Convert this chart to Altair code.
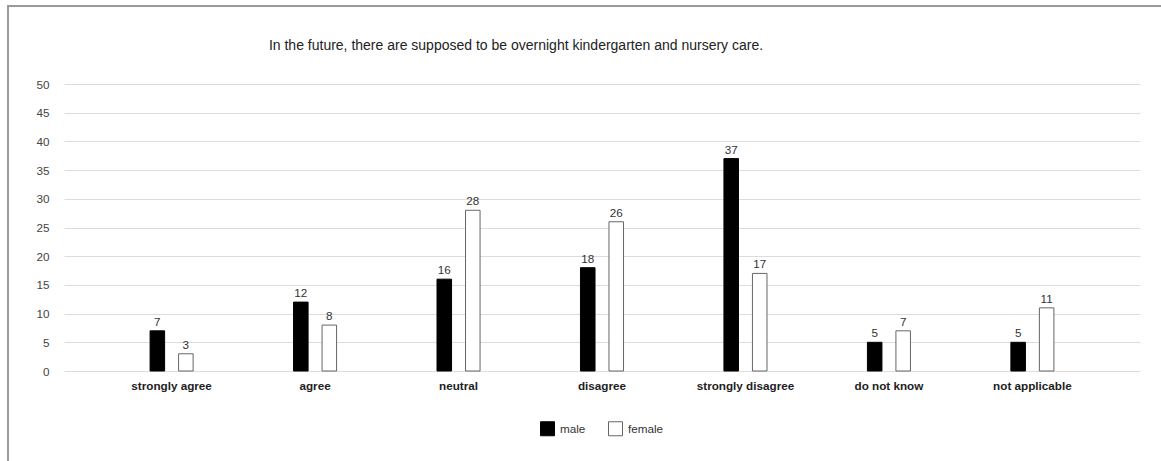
import altair as alt
import pandas as pd

categories = ["strongly agree", "agree", "neutral", "disagree",
              "strongly disagree", "do not know", "not applicable"]
genders = ["male", "female"]
male = [7, 12, 16, 18, 37, 5, 5]
female = [3, 8, 28, 26, 17, 7, 11]
y_ticks = [0, 5, 10, 15, 20, 25, 30, 35, 40, 45, 50]
title_text = "In the future, there are supposed to be overnight kindergarten and nursery care."

rows = []
for c, m, f in zip(categories, male, female):
    rows.append({"category": c, "gender": "male", "value": m})
    rows.append({"category": c, "gender": "female", "value": f})
df = pd.DataFrame(rows)

W, H = 1076, 287
FS = 11.7

x_enc = alt.X("category:N", sort=categories,
              scale=alt.Scale(paddingInner=0.7, paddingOuter=0.6),
              axis=alt.Axis(title=None, labelAngle=0, labelFontWeight="bold",
                            labelFontSize=FS, labelColor="#222", domain=False,
                            ticks=False, labelPadding=9, grid=False))
xo_enc = alt.XOffset("gender:N", sort=genders,
                     scale=alt.Scale(domain=genders, paddingInner=0.49, paddingOuter=0))
y_enc = alt.Y("value:Q", scale=alt.Scale(domain=[0, 50]),
              axis=alt.Axis(values=y_ticks, title=None, domain=False, ticks=False,
                            labelOverlap=False, labelPadding=15, labelFontSize=FS,
                            labelColor="#444", gridColor="#dcdcdc", gridWidth=1))

leg = alt.Legend(title=None, orient="none", legendX=476, legendY=337,
                 direction="horizontal", symbolType="square", symbolSize=196,
                 symbolStrokeWidth=1, labelFontSize=FS, labelColor="#333",
                 columnPadding=20, labelOffset=5)

base = alt.Chart(df)
bars = base.mark_bar(strokeWidth=1).encode(
    x=x_enc, xOffset=xo_enc, y=y_enc,
    fill=alt.Fill("gender:N", sort=genders,
                  scale=alt.Scale(domain=genders, range=["#000000", "#ffffff"]),
                  legend=leg),
    stroke=alt.Stroke("gender:N", sort=genders,
                      scale=alt.Scale(domain=genders, range=["#000000", "#666666"]),
                      legend=leg),
)
labels = base.mark_text(baseline="bottom", dy=-3, fontSize=FS, color="#333").encode(
    x=x_enc, xOffset=xo_enc, y=y_enc, text="value:Q")

frame_df = pd.DataFrame({"k": [0]})
left_rule = alt.Chart(frame_df).mark_rule(color="#9a9a9a", strokeWidth=2).encode(
    x=alt.value(-56), y=alt.value(-78), y2=alt.value(400))
top_rule = alt.Chart(frame_df).mark_rule(color="#9a9a9a", strokeWidth=2).encode(
    x=alt.value(-57), x2=alt.value(1100), y=alt.value(-78))

chart = alt.layer(bars, labels, left_rule, top_rule).properties(
    width=W, height=H,
    title=alt.TitleParams(title_text, fontSize=14, fontWeight="normal", color="#222",
                          anchor="middle", frame="group", dx=-86, offset=-48),
    autosize=alt.AutoSizeParams(type="none"),
    padding={"left": 64, "top": 84, "right": 21, "bottom": 90},
).configure(font="Liberation Sans").configure_view(stroke=None)

chart.save("out.html", embed_options={"renderer": "svg", "actions": False})
